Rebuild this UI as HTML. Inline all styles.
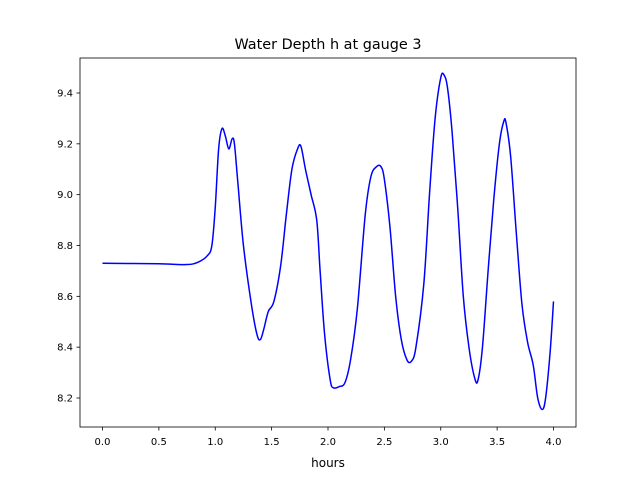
<!DOCTYPE html>
<html><head><meta charset="utf-8"><style>
body{margin:0;background:#fff}
text{font-family:"DejaVu Sans","Liberation Sans",sans-serif;fill:#000}
</style></head><body>
<svg id="chart" width="640" height="480" xmlns="http://www.w3.org/2000/svg">
<rect width="640" height="480" fill="#fff"/>
<text x="328" y="49" font-size="14.4" text-anchor="middle">Water Depth h at gauge 3</text>
<text x="328" y="467" font-size="12" text-anchor="middle">hours</text>
<g id="ticks"></g>
<path id="line" fill="none" stroke="#0000ff" stroke-width="1.5" stroke-linejoin="round"/>
<rect x="80" y="58" width="496" height="369" fill="none" stroke="#000" stroke-width="0.8"/>
</svg>
<script>
const hours=[0,0.5,0.75,0.85,0.93,0.97,1.0,1.03,1.06,1.09,1.12,1.15,1.17,1.2,1.25,1.32,1.37,1.4,1.43,1.47,1.52,1.58,1.63,1.68,1.73,1.76,1.8,1.85,1.9,1.93,1.97,2.02,2.05,2.1,2.15,2.2,2.26,2.33,2.38,2.43,2.47,2.5,2.55,2.6,2.65,2.7,2.74,2.78,2.85,2.9,2.95,3.0,3.03,3.06,3.1,3.15,3.2,3.25,3.3,3.33,3.37,3.42,3.47,3.52,3.56,3.58,3.62,3.67,3.72,3.77,3.82,3.86,3.9,3.93,3.97,4.0];
const depth=[8.73,8.728,8.725,8.735,8.76,8.8,8.95,9.18,9.26,9.23,9.18,9.22,9.2,9.05,8.8,8.57,8.45,8.43,8.47,8.54,8.58,8.72,8.92,9.1,9.18,9.19,9.1,9.0,8.9,8.7,8.45,8.27,8.24,8.245,8.26,8.35,8.55,8.92,9.07,9.11,9.11,9.06,8.87,8.6,8.43,8.35,8.345,8.4,8.65,9.0,9.3,9.46,9.47,9.42,9.25,8.95,8.6,8.4,8.28,8.27,8.4,8.7,8.98,9.2,9.29,9.28,9.15,8.85,8.57,8.42,8.33,8.2,8.155,8.2,8.38,8.58];
const xTicks=["0.0","0.5","1.0","1.5","2.0","2.5","3.0","3.5","4.0"];
const yTicks=["8.2","8.4","8.6","8.8","9.0","9.2","9.4"];
const X=v=>102.5+v*112.75;
const Y=v=>398-(v-8.2)*254.17;
const NS="http://www.w3.org/2000/svg";
const g=document.getElementById('ticks');
function el(t,a){const e=document.createElementNS(NS,t);for(const k in a)e.setAttribute(k,a[k]);g.appendChild(e);return e;}
xTicks.forEach(t=>{const x=X(+t);
const l=el('line',{x1:x,x2:x,y1:427,y2:430.5,stroke:'#000','stroke-width':0.8});


const tx=el('text',{x:x,y:445,'font-size':10,'text-anchor':'middle'});tx.textContent=t;

});
yTicks.forEach(t=>{const y=Y(+t);
const l=el('line',{x1:76.5,x2:80,y1:y,y2:y,stroke:'#000','stroke-width':0.8});


const tx=el('text',{x:73,y:y+3.5,'font-size':10,'text-anchor':'end'});tx.textContent=t;

});
// smooth path with Catmull-Rom
const pts=hours.map((h,i)=>[X(h),Y(depth[i])]);
let d='M'+pts[0][0]+','+pts[0][1];
for(let i=0;i<pts.length-1;i++){const p0=pts[i-1]||pts[i],p1=pts[i],p2=pts[i+1],p3=pts[i+2]||p2;
d+=' C'+(p1[0]+(p2[0]-p0[0])/6)+','+(p1[1]+(p2[1]-p0[1])/6)+' '+(p2[0]-(p3[0]-p1[0])/6)+','+(p2[1]-(p3[1]-p1[1])/6)+' '+p2[0]+','+p2[1];}
document.getElementById('line').setAttribute('d',d);
</script>
</body></html>
